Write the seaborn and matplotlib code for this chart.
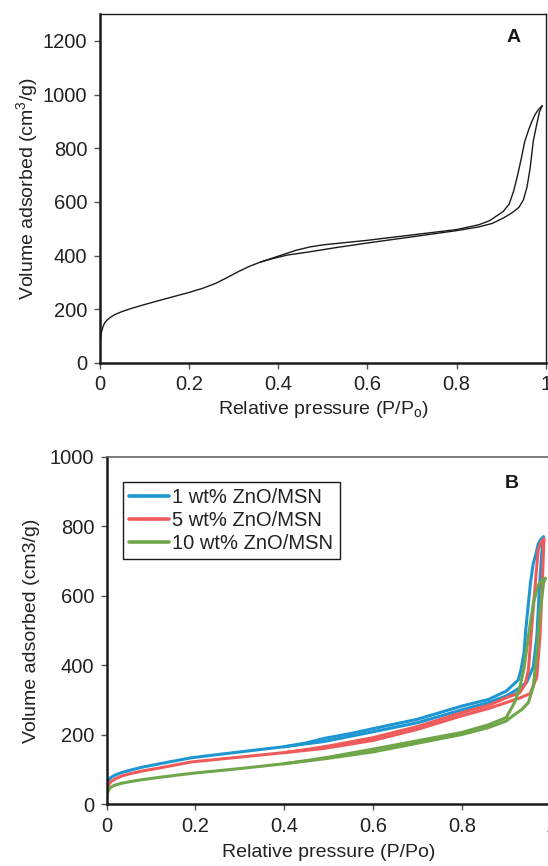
import numpy as np
import pandas as pd
import matplotlib
matplotlib.use("Agg")
import matplotlib.pyplot as plt
import seaborn as sns

# Panel A: N2 isotherm of MSN (adsorption + desorption branch)
a_ads_x = [0, 0.001, 0.003, 0.006, 0.01, 0.016, 0.024, 0.034, 0.05, 0.07, 0.09, 0.12,
           0.16, 0.2, 0.23, 0.26, 0.285, 0.31, 0.335, 0.36, 0.39, 0.42, 0.47, 0.53,
           0.6, 0.7, 0.8, 0.85, 0.88, 0.905, 0.925, 0.94, 0.95, 0.958, 0.965, 0.972,
           0.98, 0.986, 0.992]
a_ads_y = [40, 85, 112, 132, 148, 160, 171, 181, 192, 203, 213, 227,
           245, 263, 278, 297, 318, 340, 360, 376, 390, 402, 414, 430,
           447, 470, 493, 507, 520, 540, 560, 580, 608, 655, 725, 825,
           890, 935, 958]
a_des_x = [0.992, 0.984, 0.976, 0.969, 0.962, 0.953, 0.945, 0.937, 0.928, 0.918,
           0.905, 0.89, 0.874, 0.85, 0.8, 0.7, 0.6, 0.5, 0.47, 0.44, 0.4, 0.36]
a_des_y = [958, 945, 925, 900, 870, 825, 760, 700, 640, 592,
           565, 548, 530, 515, 497, 477, 457, 440, 432, 420, 398, 376]

# Panel B: ZnO/MSN samples
b_labels = ["1 wt% ZnO/MSN", "5 wt% ZnO/MSN", "10 wt% ZnO/MSN"]
b_colors = ["#1e96d2", "#ef5b5b", "#70a64a"]

b1_ads_x = [0, 0.002, 0.005, 0.01, 0.02, 0.035, 0.055, 0.08, 0.12, 0.19, 0.3, 0.4, 0.49,
            0.6, 0.7, 0.8, 0.86, 0.9, 0.925, 0.946, 0.961, 0.969, 0.975, 0.98, 0.984]
b1_ads_y = [50, 62, 70, 77, 84, 91, 98, 106, 116, 133, 150, 165, 180,
            208, 234, 271, 292, 311, 330, 350, 395, 482, 626, 722, 768]
b1_des_x = [0.984, 0.977, 0.972, 0.966, 0.961, 0.955, 0.95, 0.944, 0.94, 0.933, 0.927,
            0.917, 0.9, 0.86, 0.8, 0.7, 0.6, 0.55, 0.49, 0.45, 0.4]
b1_des_y = [770, 760, 748, 715, 693, 640, 578, 500, 434, 385, 357,
            345, 325, 301, 282, 244, 217, 203, 189, 176, 165]

b5_ads_x = [0, 0.002, 0.005, 0.01, 0.02, 0.035, 0.055, 0.08, 0.12, 0.19, 0.3, 0.4, 0.49,
            0.6, 0.7, 0.8, 0.86, 0.9, 0.93, 0.954, 0.969, 0.976, 0.981, 0.985]
b5_ads_y = [30, 48, 57, 65, 73, 81, 88, 95, 104, 121, 135, 148, 160,
            183, 215, 254, 275, 292, 305, 318, 366, 482, 626, 763]
b5_des_x = [0.985, 0.979, 0.972, 0.965, 0.957, 0.95, 0.943, 0.93, 0.9, 0.86, 0.8,
            0.7, 0.6, 0.5, 0.45, 0.4]
b5_des_y = [763, 755, 731, 626, 501, 386, 345, 320, 306, 284, 263,
            223, 191, 167, 157, 148]

b10_ads_x = [0, 0.002, 0.005, 0.01, 0.02, 0.035, 0.055, 0.08, 0.12, 0.19, 0.3, 0.4, 0.49,
             0.6, 0.7, 0.8, 0.86, 0.9, 0.916, 0.935, 0.95, 0.961, 0.969, 0.976, 0.984, 0.988]
b10_ads_y = [18, 33, 42, 49, 55, 60, 65, 70, 77, 88, 102, 116, 130,
             150, 175, 200, 220, 239, 255, 272, 292, 338, 434, 549, 635, 650]
b10_des_x = [0.988, 0.981, 0.972, 0.961, 0.95, 0.94, 0.931, 0.92, 0.9, 0.86, 0.8,
             0.7, 0.6, 0.5, 0.45, 0.4]
b10_des_y = [650, 645, 630, 578, 482, 390, 338, 295, 249, 228, 206,
             182, 158, 135, 125, 116]

sns.set_theme(style="ticks")
plt.rcParams["font.family"] = ["Liberation Sans", "DejaVu Sans"]
plt.rcParams["mathtext.fontset"] = "custom"
plt.rcParams["mathtext.rm"] = "Liberation Sans"
plt.rcParams["mathtext.it"] = "Liberation Sans"

W, H = 548, 866
fig = plt.figure(figsize=(W / 100, H / 100), dpi=100)
fs_tick = 14.5
fs_lab = 14


def box(l, r, t, b):
    return [l / W, 1 - b / H, (r - l) / W, (b - t) / H]


def style_ax(ax):
    ax.tick_params(axis="both", which="both", direction="out", length=4, width=1,
                   color="#555555", labelsize=fs_tick, labelcolor="#222222",
                   top=False, right=False, pad=5)
    for s in ["left", "bottom"]:
        ax.spines[s].set_linewidth(1.8)
        ax.spines[s].set_color("#1a1a1a")


# ---- panel A
axA = fig.add_axes(box(100, 545.7, 14, 363))
dfA = pd.DataFrame({
    "x": a_ads_x + a_des_x,
    "y": a_ads_y + a_des_y,
    "branch": ["ads"] * len(a_ads_x) + ["des"] * len(a_des_x),
})
sns.lineplot(data=dfA, x="x", y="y", units="branch", estimator=None, sort=False,
             color="#1a1a1a", lw=1.0, ax=axA)
axA.set_xlim(0, 1)
axA.set_ylim(0, 1300)
axA.set_xticks([0, 0.2, 0.4, 0.6, 0.8, 1])
axA.set_xticklabels(["0", "0.2", "0.4", "0.6", "0.8", "1"])
axA.set_yticks(range(0, 1201, 200))
style_ax(axA)
for s in ["top", "right"]:
    axA.spines[s].set_linewidth(1.0)
    axA.spines[s].set_color("#1a1a1a")
axA.set_xlabel(r"Relative pressure (P/P$_\mathregular{o}$)", fontsize=fs_lab, color="#222222", labelpad=3)
axA.set_ylabel(r"Volume adsorbed (cm$^\mathregular{3}$/g)", fontsize=fs_lab, color="#222222", labelpad=2)
axA.text(0.927, 0.934, "A", transform=axA.transAxes, fontsize=fs_lab, fontweight="bold",
         ha="center", va="center", color="#1a1a1a")

# ---- panel B
axB = fig.add_axes(box(106.7, 550.6, 456.7, 804))
rows = []
for lab, ax_, ay_, dx_, dy_ in [
    (b_labels[0], b1_ads_x, b1_ads_y, b1_des_x, b1_des_y),
    (b_labels[1], b5_ads_x, b5_ads_y, b5_des_x, b5_des_y),
    (b_labels[2], b10_ads_x, b10_ads_y, b10_des_x, b10_des_y),
]:
    for xv, yv in zip(ax_, ay_):
        rows.append((lab, "ads", xv, yv))
    for xv, yv in zip(dx_, dy_):
        rows.append((lab, "des", xv, yv))
dfB = pd.DataFrame(rows, columns=["sample", "branch", "x", "y"])
for lab, col in zip(b_labels, b_colors):
    sub = dfB[dfB["sample"] == lab]
    sns.lineplot(data=sub, x="x", y="y", units="branch", estimator=None, sort=False,
                 color=col, lw=2.2, ax=axB)
    axB.plot([], [], color=col, lw=2.6, label=lab)
axB.set_xlim(0, 1)
axB.set_ylim(0, 1000)
axB.set_xticks([0, 0.2, 0.4, 0.6, 0.8, 1])
axB.set_xticklabels(["0", "0.2", "0.4", "0.6", "0.8", "1"])
axB.set_yticks(range(0, 1001, 200))
style_ax(axB)
axB.spines["top"].set_linewidth(1.2)
axB.spines["top"].set_color("#666666")
axB.spines["right"].set_visible(False)
axB.set_xlabel("Relative pressure (P/Po)", fontsize=fs_lab, color="#222222", labelpad=6)
axB.set_ylabel("Volume adsorbed (cm3/g)", fontsize=fs_lab, color="#222222", labelpad=7)
axB.text(0.913, 0.924, "B", transform=axB.transAxes, fontsize=fs_lab, fontweight="bold",
         ha="center", va="center", color="#1a1a1a")
leg = axB.legend(loc="upper left", bbox_to_anchor=(0.037, 0.927), fontsize=14.5,
                 frameon=True, fancybox=False, framealpha=1, edgecolor="#1a1a1a",
                 handlelength=2.0, handletextpad=0.15, labelspacing=0.2,
                 borderpad=0.3, borderaxespad=0)
leg.get_frame().set_linewidth(1.0)
for t in leg.get_texts():
    t.set_color("#222222")

fig.savefig("out.png", dpi=100)
